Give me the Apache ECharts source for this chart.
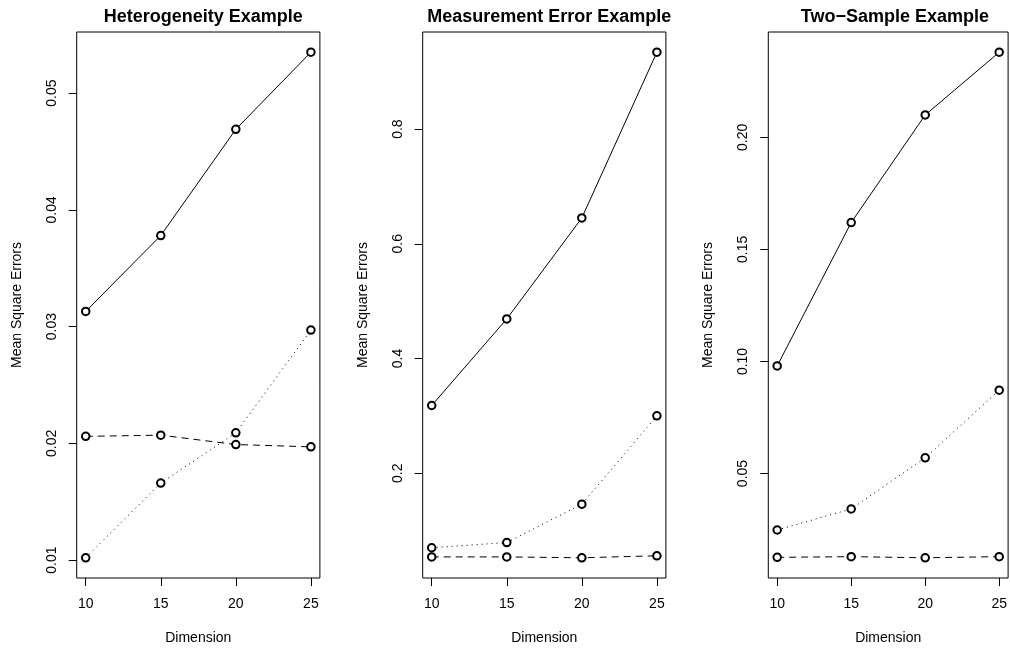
<!DOCTYPE html>
<html>
<head>
<meta charset="utf-8">
<script src="https://cdn.jsdelivr.net/npm/echarts@6/dist/echarts.min.js"></script>
<style>
  html, body { margin: 0; padding: 0; background: #fff; }
  #chart { width: 1010px; height: 650px; }
</style>
</head>
<body>
<div id="chart"></div>
<script>
// x values shared by all panels
const dims = [10, 15, 20, 25];

// panel titles
const titles = ['Heterogeneity Example', 'Measurement Error Example', 'Two\u2212Sample Example'];

// Heterogeneity panel
const hetSolid  = [0.0313, 0.0378, 0.0469, 0.0535];
const hetDashed = [0.0206, 0.0207, 0.0199, 0.0197];
const hetDotted = [0.0102, 0.0166, 0.0209, 0.0297];

// Measurement error panel
const meSolid  = [0.318, 0.469, 0.645, 0.934];
const meDashed = [0.054, 0.054, 0.0525, 0.056];
const meDotted = [0.070, 0.079, 0.146, 0.300];

// Two-sample panel
const tsSolid  = [0.098, 0.162, 0.210, 0.238];
const tsDashed = [0.0126, 0.0129, 0.0124, 0.0129];
const tsDotted = [0.0248, 0.0342, 0.057, 0.0872];

// tick labels
const xTicks = [10, 15, 20, 25];
const yTicks1 = [0.01, 0.02, 0.03, 0.04, 0.05];
const yTicks2 = [0.2, 0.4, 0.6, 0.8];
const yTicks3 = [0.05, 0.10, 0.15, 0.20];
const yDigits = [2, 1, 2];

const panels = [
    { solid: hetSolid, dashed: hetDashed, dotted: hetDotted, ticks: yTicks1 },
    { solid: meSolid, dashed: meDashed, dotted: meDotted, ticks: yTicks2 },
    { solid: tsSolid, dashed: tsDashed, dotted: tsDotted, ticks: yTicks3 },
];

const FONT = '"Liberation Sans", Arial, Helvetica, sans-serif';
const lefts = [76.7, 422.7, 768.3];
const boxW = 243.2;

// R style axis range: data range extended by 4% on each side
function padRange(arr) {
    const lo = Math.min(...arr), hi = Math.max(...arr);
    const d = (hi - lo) * 0.04;
    return [lo - d, hi + d];
}

const chart = echarts.init(document.getElementById('chart'), null, { renderer: 'canvas' });

const grid = [], xAxis = [], yAxis = [], series = [], title = [];
const xr = padRange(dims);

panels.forEach((p, i) => {
    const yr = padRange(p.solid.concat(p.dashed, p.dotted));
    grid.push({
        left: lefts[i], top: 32, width: boxW, bottom: 72,
        show: true, borderColor: '#000', borderWidth: 1, backgroundColor: 'transparent'
    });
    title.push({
        text: titles[i],
        left: lefts[i] + boxW / 2,
        top: 3,
        textAlign: 'center',
        textStyle: { fontFamily: FONT, fontSize: 18, fontWeight: 'bold', color: '#000' }
    });
    xAxis.push({
        type: 'value', gridIndex: i, min: xr[0], max: xr[1],
        name: 'Dimension', nameLocation: 'middle', nameGap: 53,
        nameTextStyle: { fontFamily: FONT, fontSize: 14, color: '#000' },
        axisLine: { show: false },
        splitLine: { show: false },
        axisTick: { show: true, inside: false, length: 8, customValues: xTicks, lineStyle: { color: '#000', width: 1 } },
        axisLabel: { show: true, customValues: xTicks, margin: 19, fontFamily: FONT, fontSize: 14, color: '#000' }
    });
    yAxis.push({
        type: 'value', gridIndex: i, min: yr[0], max: yr[1],
        name: 'Mean Square Errors', nameLocation: 'middle', nameGap: 53,
        nameTextStyle: { fontFamily: FONT, fontSize: 14, color: '#000' },
        axisLine: { show: false },
        splitLine: { show: false },
        axisTick: { show: true, inside: false, length: 8, customValues: p.ticks, lineStyle: { color: '#000', width: 1 } },
        axisLabel: {
            show: true, customValues: p.ticks, rotate: 90, margin: 18,
            fontFamily: FONT, fontSize: 14, color: '#000',
            formatter: v => Number(v).toFixed(yDigits[i])
        }
    });
    const styles = [['solid', p.solid], [[7, 5], p.dashed], [[1, 4], p.dotted]];
    styles.forEach(([t, vals]) => {
        series.push({
            type: 'line', xAxisIndex: i, yAxisIndex: i,
            data: dims.map((d, j) => [d, vals[j]]),
            symbol: 'emptyCircle', symbolSize: 7.5,
            lineStyle: { color: '#000', width: 1, type: t },
            itemStyle: { color: '#000', borderWidth: 1.1 },
            emphasis: { disabled: true }
        });
    });
});

chart.setOption({
    animation: false,
    backgroundColor: '#fff',
    title, grid, xAxis, yAxis, series
});
</script>
</body>
</html>
